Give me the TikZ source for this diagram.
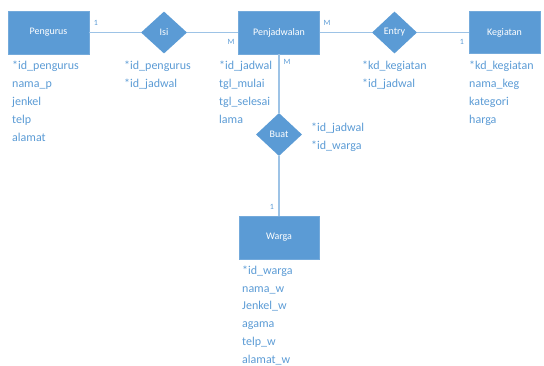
\documentclass[tikz,border=0pt]{standalone}
\usepackage{fontspec}
\setmainfont{Carlito}
\usetikzlibrary{shapes.geometric}
\definecolor{erblue}{HTML}{5B9BD5}
\definecolor{erline}{HTML}{9DC3E6}
\definecolor{ertext}{HTML}{5B9BD5}
\begin{document}
\begin{tikzpicture}[x=1pt,y=-1pt,
  entity/.style={rectangle, fill=erblue, draw=erblue!85!white, line width=0.6pt,
    minimum width=81pt, minimum height=43pt, inner sep=0pt,
    text=white, font=\fontsize{10}{12}\selectfont},
  rel/.style={diamond, fill=erblue, minimum width=46pt, minimum height=42pt,
    inner sep=0pt, text=white, font=\fontsize{10}{12}\selectfont},
  attr/.style={anchor=base west, inner sep=0pt, text=ertext,
    font=\fontsize{12}{14}\selectfont},
  card/.style={inner sep=0pt, text=ertext, font=\fontsize{8}{9}\selectfont},
  link/.style={draw=erline, line width=1.5pt}]
\useasboundingbox (0,0) rectangle (544,365);

% entities
\node[entity] (peng) at (48.5,32.5) {Pengurus};
\node[entity] (penj) at (279,32.5) {Penjadwalan};
\node[entity, minimum width=71pt, minimum height=42pt] (keg) at (504.5,32.5) {Kegiatan};
\node[entity, minimum width=80pt] (warga) at (279,237.5) {Warga};

% relationships
\node[rel] (isi) at (164,32.5) {Isi};
\node[rel, minimum width=45pt] (entry) at (394.5,32.5) {Entry};
\node[rel, minimum height=43pt] (buat) at (279,134.5) {Buat};

% connectors
\draw[link] (peng.east) -- (isi.west);
\draw[link] (isi.east) -- (penj.west);
\draw[link] (penj.east) -- (entry.west);
\draw[link] (entry.east) -- (keg.west);
\draw[link] (penj.south) -- (buat.north);
\draw[link] (buat.south) -- (warga.north);

% cardinalities
\node[card] (c1) at (96,23) {1};
\node[card] (c2) at (231,42) {M};
\node[card] (c3) at (327,23) {M};
\node[card] (c4) at (462,42) {1};
\node[card] (c5) at (287,62) {M};
\node[card] (c6) at (272,207) {1};

% attributes
\foreach \t [count=\i] in {*id\_pengurus, nama\_p, jenkel, telp, alamat}
  \node[attr] (apeng\i) at (12,{69+18*(\i-1)}) {\t};
\foreach \t [count=\i] in {*id\_pengurus, *id\_jadwal}
  \node[attr] (aisi\i) at (124,{69+18*(\i-1)}) {\t};
\foreach \t [count=\i] in {*id\_jadwal, tgl\_mulai, tgl\_selesai, lama}
  \node[attr] (apenj\i) at (219,{69+18*(\i-1)}) {\t};
\foreach \t [count=\i] in {*kd\_kegiatan, *id\_jadwal}
  \node[attr] (aentry\i) at (362,{69.5+18*(\i-1)}) {\t};
\foreach \t [count=\i] in {*kd\_kegiatan, nama\_keg, kategori, harga}
  \node[attr] (akeg\i) at (469,{69+18*(\i-1)}) {\t};
\foreach \t [count=\i] in {*id\_jadwal, *id\_warga}
  \node[attr] (abuat\i) at (311,{131.5+18*(\i-1)}) {\t};
\foreach \t [count=\i] in {*id\_warga, nama\_w, Jenkel\_w, agama, telp\_w, alamat\_w}
  \node[attr] (awarga\i) at (242,{274.5+17.7*(\i-1)}) {\t};
\end{tikzpicture}
\end{document}
